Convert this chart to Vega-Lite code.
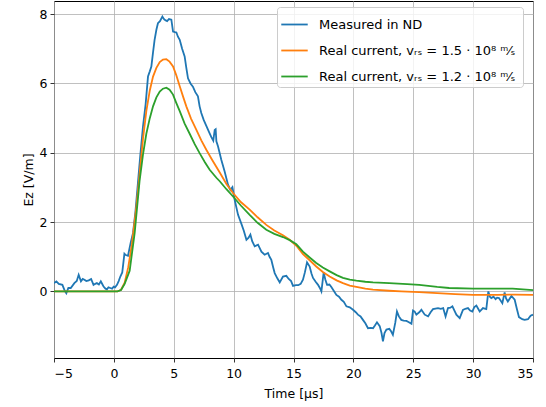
{
  "$schema": "https://vega.github.io/schema/vega-lite/v6.json",
  "width": 479,
  "height": 357,
  "autosize": {"type": "none"},
  "padding": {"left": 54, "top": 1, "right": 13, "bottom": 49},
  "background": "white",
  "config": {
    "font": "DejaVu Sans",
    "view": {"stroke": "black", "strokeWidth": 1},
    "axis": {
      "grid": true, "gridColor": "#b0b0b0", "gridWidth": 0.8,
      "domain": false, "tickColor": "black", "tickSize": 4, "tickWidth": 0.8,
      "labelFont": "DejaVu Sans", "labelFontSize": 12.5, "labelColor": "black",
      "titleFont": "DejaVu Sans", "titleFontSize": 12.5, "titleFontWeight": "normal", "titleColor": "black",
      "labelPadding": 3
    }
  },
  "data": {"values": [
    {"s":"m","t":-5.0,"v":0.24},{"s":"m","t":-4.8,"v":0.29},{"s":"m","t":-4.6,"v":0.22},{"s":"m","t":-4.3,"v":0.19},{"s":"m","t":-4.1,"v":0.02},{"s":"m","t":-3.97,"v":-0.05},{"s":"m","t":-3.8,"v":0.1},{"s":"m","t":-3.6,"v":0.1},{"s":"m","t":-3.3,"v":0.24},{"s":"m","t":-3.1,"v":0.3},{"s":"m","t":-2.94,"v":0.48},{"s":"m","t":-2.75,"v":0.29},{"s":"m","t":-2.6,"v":0.36},{"s":"m","t":-2.46,"v":0.34},{"s":"m","t":-2.3,"v":0.3},{"s":"m","t":-2.1,"v":0.32},{"s":"m","t":-1.9,"v":0.36},{"s":"m","t":-1.7,"v":0.19},{"s":"m","t":-1.55,"v":0.22},{"s":"m","t":-1.42,"v":0.24},{"s":"m","t":-1.25,"v":0.2},{"s":"m","t":-1.09,"v":0.29},{"s":"m","t":-0.95,"v":0.2},{"s":"m","t":-0.86,"v":0.14},{"s":"m","t":-0.7,"v":0.08},{"s":"m","t":-0.58,"v":0.06},{"s":"m","t":-0.45,"v":0.12},{"s":"m","t":-0.3,"v":0.1},{"s":"m","t":-0.15,"v":0.08},{"s":"m","t":-0.02,"v":0.14},{"s":"m","t":0.1,"v":0.12},{"s":"m","t":0.26,"v":0.19},{"s":"m","t":0.4,"v":0.3},{"s":"m","t":0.54,"v":0.43},{"s":"m","t":0.7,"v":0.55},{"s":"m","t":0.88,"v":1.09},{"s":"m","t":1.0,"v":1.05},{"s":"m","t":1.18,"v":1.03},{"s":"m","t":1.4,"v":1.4},{"s":"m","t":1.6,"v":1.69},{"s":"m","t":1.8,"v":2.3},{"s":"m","t":2.0,"v":3.1},{"s":"m","t":2.2,"v":3.9},{"s":"m","t":2.43,"v":4.76},{"s":"m","t":2.65,"v":5.4},{"s":"m","t":2.85,"v":6.2},{"s":"m","t":3.0,"v":6.35},{"s":"m","t":3.13,"v":6.49},{"s":"m","t":3.27,"v":6.9},{"s":"m","t":3.4,"v":7.26},{"s":"m","t":3.55,"v":7.55},{"s":"m","t":3.68,"v":7.74},{"s":"m","t":3.85,"v":7.8},{"s":"m","t":4.05,"v":7.93},{"s":"m","t":4.2,"v":7.85},{"s":"m","t":4.33,"v":7.82},{"s":"m","t":4.45,"v":7.8},{"s":"m","t":4.6,"v":7.86},{"s":"m","t":4.8,"v":7.84},{"s":"m","t":4.94,"v":7.5},{"s":"m","t":5.1,"v":7.48},{"s":"m","t":5.22,"v":7.47},{"s":"m","t":5.35,"v":7.35},{"s":"m","t":5.5,"v":7.26},{"s":"m","t":5.7,"v":7.0},{"s":"m","t":5.91,"v":6.78},{"s":"m","t":6.05,"v":6.45},{"s":"m","t":6.19,"v":6.15},{"s":"m","t":6.4,"v":6.0},{"s":"m","t":6.6,"v":5.91},{"s":"m","t":6.8,"v":5.75},{"s":"m","t":7.02,"v":5.63},{"s":"m","t":7.16,"v":5.34},{"s":"m","t":7.3,"v":5.15},{"s":"m","t":7.5,"v":4.95},{"s":"m","t":7.72,"v":4.78},{"s":"m","t":7.95,"v":4.6},{"s":"m","t":8.14,"v":4.45},{"s":"m","t":8.3,"v":4.35},{"s":"m","t":8.42,"v":4.66},{"s":"m","t":8.5,"v":4.68},{"s":"m","t":8.56,"v":4.33},{"s":"m","t":8.7,"v":4.18},{"s":"m","t":8.97,"v":3.8},{"s":"m","t":9.25,"v":3.46},{"s":"m","t":9.53,"v":3.08},{"s":"m","t":9.73,"v":2.93},{"s":"m","t":9.9,"v":3.01},{"s":"m","t":10.09,"v":2.64},{"s":"m","t":10.37,"v":2.21},{"s":"m","t":10.65,"v":1.95},{"s":"m","t":10.85,"v":1.75},{"s":"m","t":11.07,"v":1.49},{"s":"m","t":11.25,"v":1.55},{"s":"m","t":11.4,"v":1.64},{"s":"m","t":11.55,"v":1.45},{"s":"m","t":11.76,"v":1.3},{"s":"m","t":12.04,"v":1.35},{"s":"m","t":12.32,"v":1.15},{"s":"m","t":12.59,"v":1.06},{"s":"m","t":12.87,"v":1.11},{"s":"m","t":13.0,"v":1.0},{"s":"m","t":13.15,"v":0.91},{"s":"m","t":13.3,"v":0.7},{"s":"m","t":13.43,"v":0.53},{"s":"m","t":13.65,"v":0.38},{"s":"m","t":13.85,"v":0.26},{"s":"m","t":14.12,"v":0.43},{"s":"m","t":14.4,"v":0.45},{"s":"m","t":14.6,"v":0.36},{"s":"m","t":14.8,"v":0.3},{"s":"m","t":14.96,"v":0.16},{"s":"m","t":15.2,"v":0.18},{"s":"m","t":15.4,"v":0.18},{"s":"m","t":15.6,"v":0.22},{"s":"m","t":15.79,"v":0.34},{"s":"m","t":15.95,"v":0.55},{"s":"m","t":16.13,"v":0.84},{"s":"m","t":16.35,"v":0.72},{"s":"m","t":16.5,"v":0.52},{"s":"m","t":16.63,"v":0.39},{"s":"m","t":16.85,"v":0.28},{"s":"m","t":17.05,"v":0.19},{"s":"m","t":17.2,"v":0.1},{"s":"m","t":17.33,"v":0.0},{"s":"m","t":17.52,"v":0.55},{"s":"m","t":17.65,"v":0.35},{"s":"m","t":17.8,"v":0.19},{"s":"m","t":18.0,"v":0.2},{"s":"m","t":18.16,"v":0.13},{"s":"m","t":18.4,"v":0.0},{"s":"m","t":18.58,"v":-0.1},{"s":"m","t":18.8,"v":-0.15},{"s":"m","t":19.0,"v":-0.24},{"s":"m","t":19.2,"v":-0.3},{"s":"m","t":19.42,"v":-0.43},{"s":"m","t":19.7,"v":-0.46},{"s":"m","t":19.97,"v":-0.53},{"s":"m","t":20.2,"v":-0.6},{"s":"m","t":20.38,"v":-0.67},{"s":"m","t":20.6,"v":-0.72},{"s":"m","t":20.8,"v":-0.82},{"s":"m","t":21.0,"v":-0.92},{"s":"m","t":21.22,"v":-1.06},{"s":"m","t":21.45,"v":-1.05},{"s":"m","t":21.64,"v":-1.06},{"s":"m","t":21.8,"v":-0.98},{"s":"m","t":21.97,"v":-0.89},{"s":"m","t":22.2,"v":-1.0},{"s":"m","t":22.35,"v":-1.2},{"s":"m","t":22.47,"v":-1.44},{"s":"m","t":22.6,"v":-1.2},{"s":"m","t":22.76,"v":-1.1},{"s":"m","t":23.0,"v":-1.08},{"s":"m","t":23.15,"v":-1.15},{"s":"m","t":23.3,"v":-1.25},{"s":"m","t":23.5,"v":-0.9},{"s":"m","t":23.64,"v":-0.58},{"s":"m","t":23.8,"v":-0.72},{"s":"m","t":24.0,"v":-0.82},{"s":"m","t":24.2,"v":-0.84},{"s":"m","t":24.43,"v":-0.85},{"s":"m","t":24.6,"v":-0.88},{"s":"m","t":24.85,"v":-0.93},{"s":"m","t":24.98,"v":-0.55},{"s":"m","t":25.12,"v":-0.58},{"s":"m","t":25.26,"v":-0.67},{"s":"m","t":25.5,"v":-0.6},{"s":"m","t":25.68,"v":-0.53},{"s":"m","t":25.96,"v":-0.67},{"s":"m","t":26.24,"v":-0.72},{"s":"m","t":26.45,"v":-0.6},{"s":"m","t":26.65,"v":-0.51},{"s":"m","t":27.07,"v":-0.48},{"s":"m","t":27.3,"v":-0.5},{"s":"m","t":27.5,"v":-0.48},{"s":"m","t":27.7,"v":-0.72},{"s":"m","t":27.9,"v":-0.48},{"s":"m","t":28.1,"v":-0.47},{"s":"m","t":28.27,"v":-0.43},{"s":"m","t":28.6,"v":-0.67},{"s":"m","t":28.88,"v":-0.77},{"s":"m","t":29.15,"v":-0.53},{"s":"m","t":29.35,"v":-0.5},{"s":"m","t":29.57,"v":-0.48},{"s":"m","t":29.75,"v":-0.55},{"s":"m","t":29.93,"v":-0.58},{"s":"m","t":30.1,"v":-0.45},{"s":"m","t":30.27,"v":-0.41},{"s":"m","t":30.55,"v":-0.58},{"s":"m","t":30.82,"v":-0.48},{"s":"m","t":31.1,"v":-0.51},{"s":"m","t":31.27,"v":0.0},{"s":"m","t":31.4,"v":-0.15},{"s":"m","t":31.52,"v":-0.19},{"s":"m","t":31.7,"v":-0.15},{"s":"m","t":31.88,"v":-0.22},{"s":"m","t":32.0,"v":-0.18},{"s":"m","t":32.16,"v":-0.19},{"s":"m","t":32.44,"v":-0.34},{"s":"m","t":32.63,"v":-0.03},{"s":"m","t":32.75,"v":-0.2},{"s":"m","t":32.9,"v":-0.29},{"s":"m","t":33.2,"v":-0.13},{"s":"m","t":33.47,"v":-0.24},{"s":"m","t":33.65,"v":-0.5},{"s":"m","t":33.83,"v":-0.74},{"s":"m","t":34.1,"v":-0.8},{"s":"m","t":34.3,"v":-0.82},{"s":"m","t":34.58,"v":-0.8},{"s":"m","t":34.8,"v":-0.7},{"s":"m","t":35.0,"v":-0.67},
    {"s":"a","t":-5,"v":0},{"s":"a","t":0,"v":0},{"s":"a","t":0.3,"v":0},{"s":"a","t":0.6,"v":0.05},{"s":"a","t":0.9,"v":0.25},{"s":"a","t":1.2,"v":0.7},{"s":"a","t":1.5,"v":1.35},{"s":"a","t":1.88,"v":2.45},{"s":"a","t":2.15,"v":3.4},{"s":"a","t":2.43,"v":4.4},{"s":"a","t":2.71,"v":5.2},{"s":"a","t":3.0,"v":5.8},{"s":"a","t":3.27,"v":6.2},{"s":"a","t":3.55,"v":6.45},{"s":"a","t":3.83,"v":6.62},{"s":"a","t":4.1,"v":6.69},{"s":"a","t":4.38,"v":6.7},{"s":"a","t":4.65,"v":6.63},{"s":"a","t":4.94,"v":6.49},{"s":"a","t":5.2,"v":6.25},{"s":"a","t":5.5,"v":5.92},{"s":"a","t":5.8,"v":5.6},{"s":"a","t":6.05,"v":5.34},{"s":"a","t":6.45,"v":4.98},{"s":"a","t":6.89,"v":4.66},{"s":"a","t":7.3,"v":4.36},{"s":"a","t":7.72,"v":4.09},{"s":"a","t":8.2,"v":3.8},{"s":"a","t":8.84,"v":3.43},{"s":"a","t":9.4,"v":3.1},{"s":"a","t":9.95,"v":2.84},{"s":"a","t":10.6,"v":2.58},{"s":"a","t":11.34,"v":2.36},{"s":"a","t":12.0,"v":2.14},{"s":"a","t":12.73,"v":1.92},{"s":"a","t":13.4,"v":1.76},{"s":"a","t":14.12,"v":1.62},{"s":"a","t":14.68,"v":1.49},{"s":"a","t":15.24,"v":1.32},{"s":"a","t":15.79,"v":1.08},{"s":"a","t":16.35,"v":0.9},{"s":"a","t":16.9,"v":0.72},{"s":"a","t":17.45,"v":0.56},{"s":"a","t":18.02,"v":0.43},{"s":"a","t":18.6,"v":0.32},{"s":"a","t":19.13,"v":0.24},{"s":"a","t":19.7,"v":0.17},{"s":"a","t":20.25,"v":0.13},{"s":"a","t":21.0,"v":0.08},{"s":"a","t":21.64,"v":0.05},{"s":"a","t":23.0,"v":0.02},{"s":"a","t":24.0,"v":0.0},{"s":"a","t":25.5,"v":-0.02},{"s":"a","t":27,"v":-0.05},{"s":"a","t":28.5,"v":-0.08},{"s":"a","t":30,"v":-0.1},{"s":"a","t":32,"v":-0.1},{"s":"a","t":33.5,"v":-0.09},{"s":"a","t":35,"v":-0.1},
    {"s":"b","t":-5,"v":0},{"s":"b","t":0,"v":0},{"s":"b","t":0.3,"v":0},{"s":"b","t":0.6,"v":0.04},{"s":"b","t":0.9,"v":0.22},{"s":"b","t":1.32,"v":0.6},{"s":"b","t":1.74,"v":1.7},{"s":"b","t":2.15,"v":3.2},{"s":"b","t":2.43,"v":3.95},{"s":"b","t":2.71,"v":4.55},{"s":"b","t":3.0,"v":5.0},{"s":"b","t":3.27,"v":5.34},{"s":"b","t":3.55,"v":5.6},{"s":"b","t":3.83,"v":5.77},{"s":"b","t":4.1,"v":5.85},{"s":"b","t":4.38,"v":5.88},{"s":"b","t":4.65,"v":5.82},{"s":"b","t":4.94,"v":5.68},{"s":"b","t":5.2,"v":5.45},{"s":"b","t":5.5,"v":5.2},{"s":"b","t":5.9,"v":4.85},{"s":"b","t":6.33,"v":4.55},{"s":"b","t":6.75,"v":4.25},{"s":"b","t":7.16,"v":3.99},{"s":"b","t":7.6,"v":3.73},{"s":"b","t":8.0,"v":3.51},{"s":"b","t":8.56,"v":3.28},{"s":"b","t":8.84,"v":3.18},{"s":"b","t":9.4,"v":2.95},{"s":"b","t":9.95,"v":2.74},{"s":"b","t":10.6,"v":2.48},{"s":"b","t":11.34,"v":2.21},{"s":"b","t":12.0,"v":1.98},{"s":"b","t":12.73,"v":1.78},{"s":"b","t":13.4,"v":1.66},{"s":"b","t":14.12,"v":1.57},{"s":"b","t":14.68,"v":1.48},{"s":"b","t":15.24,"v":1.36},{"s":"b","t":15.79,"v":1.15},{"s":"b","t":16.35,"v":0.98},{"s":"b","t":16.9,"v":0.82},{"s":"b","t":17.45,"v":0.69},{"s":"b","t":18.02,"v":0.58},{"s":"b","t":18.6,"v":0.47},{"s":"b","t":19.13,"v":0.39},{"s":"b","t":19.7,"v":0.34},{"s":"b","t":20.25,"v":0.31},{"s":"b","t":21.0,"v":0.28},{"s":"b","t":21.64,"v":0.26},{"s":"b","t":23,"v":0.24},{"s":"b","t":24.5,"v":0.21},{"s":"b","t":25.5,"v":0.19},{"s":"b","t":27,"v":0.13},{"s":"b","t":28,"v":0.1},{"s":"b","t":30,"v":0.08},{"s":"b","t":33.3,"v":0.08},{"s":"b","t":35,"v":0.04}
  ]},
  "mark": {"type": "line", "strokeWidth": 1.8, "clip": true},
  "encoding": {
    "x": {"field": "t", "type": "quantitative", "scale": {"domain": [-5, 35], "nice": false, "zero": false},
          "axis": {"title": "Time [µs]", "values": [-5,0,5,10,15,20,25,30,35], "labelPadding": 5, "titlePadding": 8}},
    "y": {"field": "v", "type": "quantitative", "scale": {"domain": [-1.92, 8.38], "nice": false, "zero": false},
          "axis": {"title": "Ez [V/m]", "values": [0,2,4,6,8], "titlePadding": 4}},
    "color": {"field": "s", "type": "nominal",
      "scale": {"domain": ["m","a","b"], "range": ["#1f77b4","#ff7f0e","#2ca02c"]},
      "legend": {
        "title": null, "orient": "none", "legendX": 223, "legendY": 6,
        "labelExpr": "datum.label == 'm' ? 'Measured in ND' : datum.label == 'a' ? 'Real current,  vᵣₛ = 1.5 · 10⁸ ᵐ⁄ₛ' : 'Real current, vᵣₛ = 1.2 · 10⁸ ᵐ⁄ₛ'",
        "labelFont": "DejaVu Sans", "labelFontSize": 13, "labelColor": "black", "labelLimit": 400,
        "symbolType": "stroke", "symbolSize": 700, "symbolStrokeWidth": 1.8, "labelOffset": 10,
        "rowPadding": 4, "padding": 3,
        "strokeColor": "#cccccc", "fillColor": "rgba(255,255,255,0.8)", "cornerRadius": 3
      }
    }
  }
}
